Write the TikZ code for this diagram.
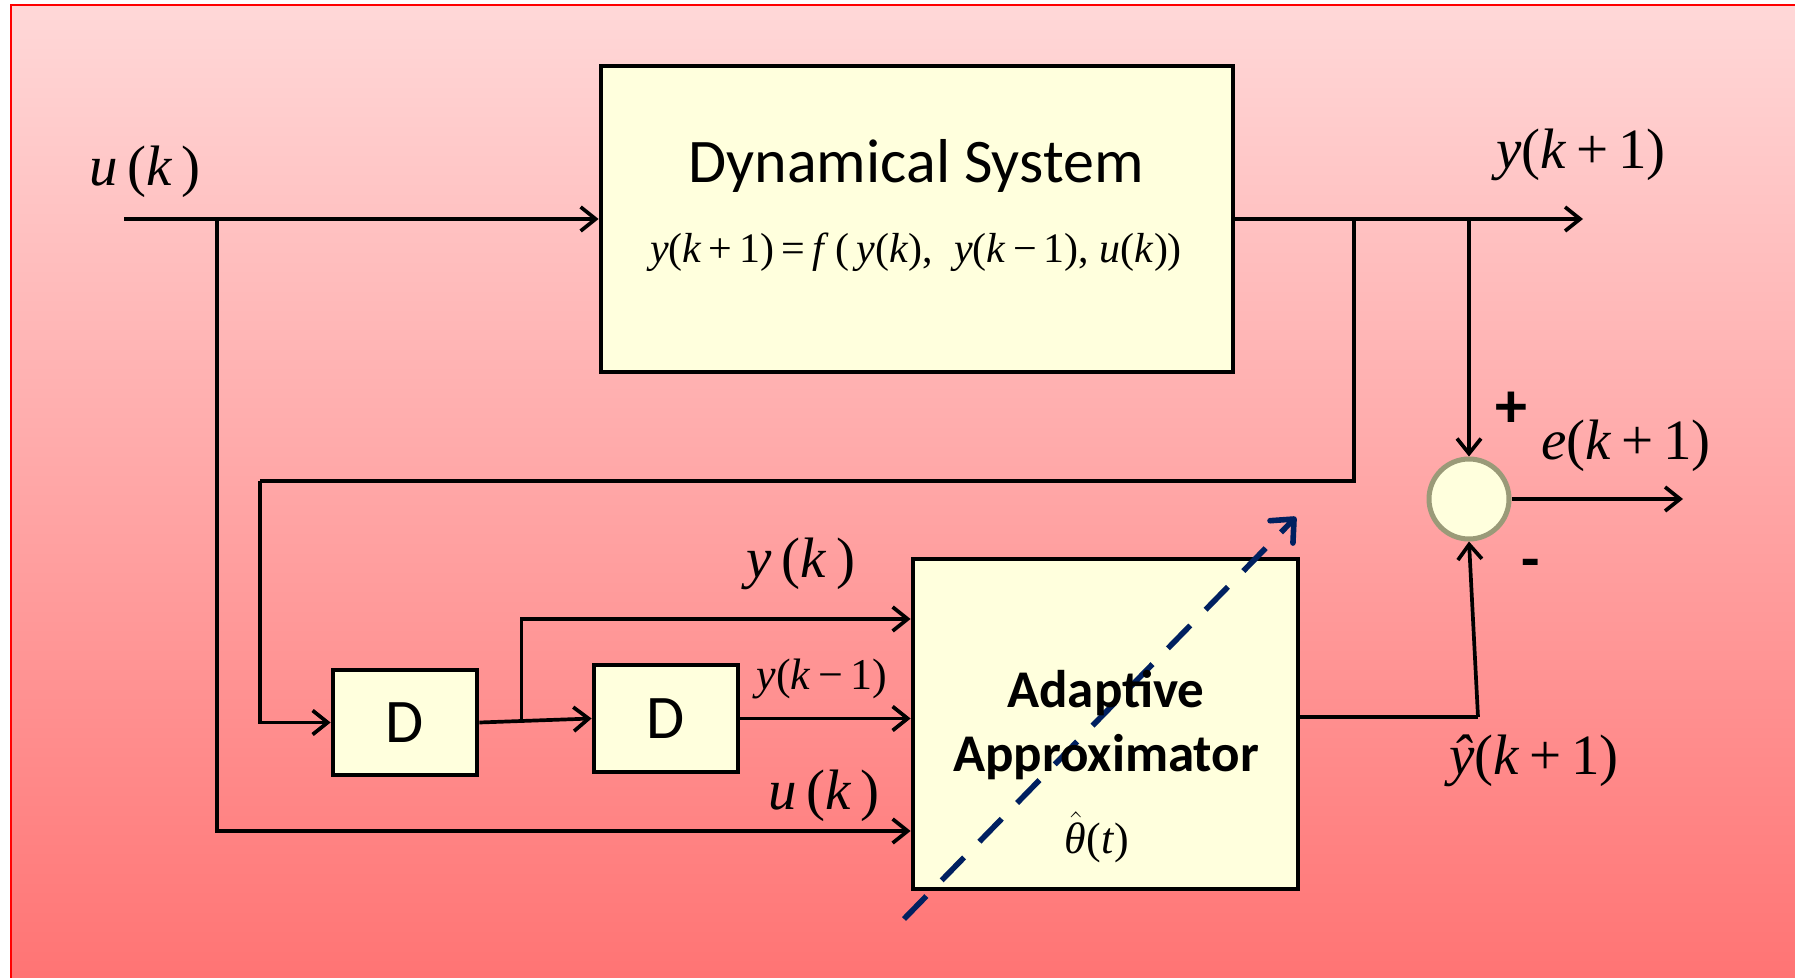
\documentclass[tikz,border=0pt]{standalone}
\usepackage{fontspec}
\setmainfont{Liberation Serif}
\newfontfamily\carlito{Carlito}
\usetikzlibrary{arrows.meta,calc}
\definecolor{boxfill}{HTML}{FFFFDD}
\definecolor{navyc}{HTML}{002060}
\definecolor{ringc}{HTML}{9A9A78}
\definecolor{bgtop}{HTML}{FFD8D8}
\definecolor{bgbot}{HTML}{FF7373}
\newcommand\mi[1]{\textit{#1}}
\begin{document}
\begin{tikzpicture}[x=0.5pt,y=-0.5pt,
  blk/.style={draw=black,line width=2.4pt,fill=boxfill,inner sep=0pt},
  wire/.style={line width=1.85pt,-{Straight Barb[length=7.5pt,width=12pt,line width=1.85pt]}},
  ln/.style={line width=1.85pt},
  lbl/.style={font=\fontsize{28.5}{30}\selectfont,inner sep=0pt},
  slbl/.style={font=\fontsize{22}{24}\selectfont,inner sep=0pt},
  ctxt/.style={font=\carlito\fontsize{31}{34}\selectfont,inner sep=0pt},
  btxt/.style={font=\carlito\bfseries\fontsize{26.5}{30}\selectfont,inner sep=0pt},
]
\useasboundingbox (0,0) rectangle (1795,978);
% background
\shade[top color=bgtop,bottom color=bgbot] (11,5) rectangle (1800,985);
\draw[red,line width=1pt] (11,985) -- (11,5) -- (1800,5);

% blocks
\node[blk,minimum width=316pt,minimum height=153pt] (dyn) at (917,219) {};
\node[blk,minimum width=192.5pt,minimum height=165pt] (adapt) at (1105.5,724) {};
\node[blk,minimum width=72pt,minimum height=52.5pt,ctxt] (d1) at (405,722.5) {D};
\node[blk,minimum width=72pt,minimum height=53.5pt,ctxt] (d2) at (666,718.5) {D};
\node[circle,draw=ringc,line width=2.5pt,fill=boxfill,minimum size=40pt,inner sep=0pt] (sum) at (1469,499) {};

% helper coordinates
\coordinate (uin) at (124,219);
\coordinate (ubr) at (217,219);
\coordinate (br1) at (1354,219);
\coordinate (fb) at (260,481);
\coordinate (yend) at (1583,219);
\coordinate (eend) at (1683,499);
\coordinate (yk) at (0,619);
\coordinate (uk) at (0,831);
\coordinate (yh) at (1478,717);
\coordinate (br3) at ($(d1.east)!0.376!(d2.west)$);

% connectors
\draw[wire] (uin) -- (dyn.west);
\draw[wire] (ubr) |- (adapt.west |- uk);
\draw[wire] (dyn.east) -- (yend);
\draw[ln] (br1) |- (fb);
\draw[wire] (fb) |- (d1.west);
\draw[wire] (sum.north |- dyn.east) -- (sum.north);
\draw[wire] (sum.east) -- (eend);
\draw[wire] (d1.east) -- (d2.west);
\draw[wire] (br3) |- (adapt.west |- yk);
\draw[wire] (d2.east) -- (adapt.west |- d2.east);
\draw[ln] ($(adapt.east)+(0,-7)$) -- (yh);
\draw[wire] (yh) -- (sum.south);

% dashed adaptation arrow
\coordinate (da) at (904,919);
\coordinate (db) at (1296,517);
\draw[navyc,line width=2.8pt,dash pattern=on 16pt off 11pt,
  -{Straight Barb[length=9pt,width=16pt,line width=2.8pt,round]}] (da) -- (db);

% texts
\node[ctxt] (dyntitle) at (916,166) {Dynamical System};
\node[font=\fontsize{21}{22}\selectfont,inner sep=0pt] (dyneq) at (916,252)
  {\mi{y}(\mi{k}\,+\,1)\,=\,\mi{f}\,(\,\mi{y}(\mi{k}),\ \ \mi{y}(\mi{k}\,−\,1), \mi{u}(\mi{k}))};
\node[btxt] (at1) at (1106,693) {Adaptive};
\node[btxt] (at2) at (1106,757) {Approximator};
\node[slbl] (theta) at (1097,837) {\ensuremath{\hat{\mbox{\itshape θ}}}(\mi{t})};

\node[lbl] (lu) at (145,172) {\mi{u}\,(\mi{k}\,)};
\node[lbl] (ly) at (1581,155) {\mi{y}(\mi{k}\,+\,1)};
\node[font=\carlito\bfseries\fontsize{32}{34}\selectfont,inner sep=0pt] (lplus) at (1511,410) {+};
\node[lbl] (le) at (1626,446) {\mi{e}(\mi{k}\,+\,1)};
\node[font=\carlito\bfseries\fontsize{30}{34}\selectfont,inner sep=0pt] (lminus) at (1531,569) {-};
\node[lbl] (lyh) at (1534,761) {\mi{ŷ}(\mi{k}\,+\,1)};
\node[lbl] (lyk) at (801,564) {\mi{y}\,(\mi{k}\,)};
\node[slbl] (lyk1) at (822,679) {\mi{y}(\mi{k}\,−\,1)};
\node[lbl] (luk) at (824,796) {\mi{u}\,(\mi{k}\,)};
\end{tikzpicture}
\end{document}
